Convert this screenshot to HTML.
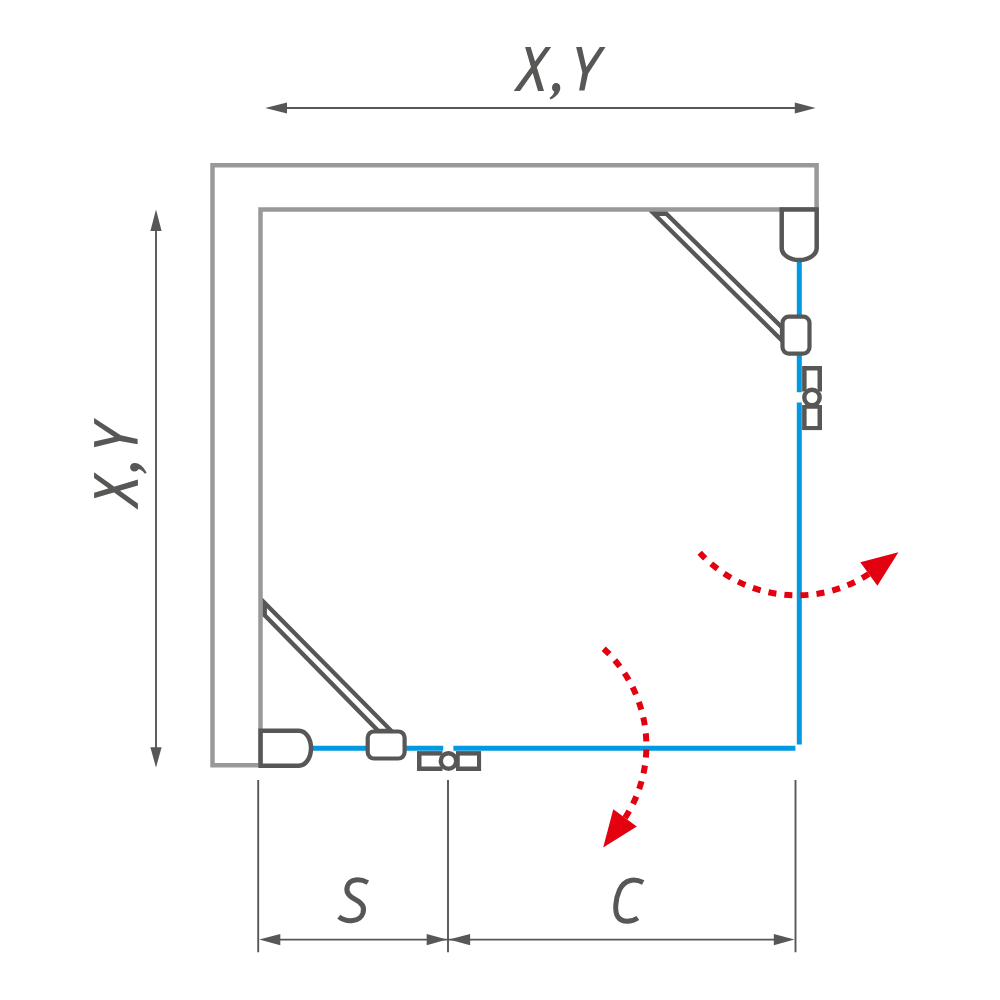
<!DOCTYPE html>
<html><head><meta charset="utf-8">
<style>
html,body{margin:0;padding:0;background:#fff;width:1000px;height:1000px;overflow:hidden;font-family:"Liberation Sans",sans-serif;}
svg{display:block;}
</style></head>
<body>
<svg width="1000" height="1000" viewBox="0 0 1000 1000">
<defs>
  <g id="asm">
    <!-- glass -->
    <path d="M799.3 258 V392.25 M799.3 402.4 V744.4" stroke="#0399e0" stroke-width="5" fill="none"/>
    <!-- strut -->
    <path d="M653.9 213.75 L666.3 213.75 L782 327.4 L782 340.5 Z" stroke="#575756" stroke-width="4.3" fill="#fff" stroke-linejoin="miter"/>
    <!-- hinge -->
    <path d="M781.7 209.6 H816.7 V248 A17.5 12 0 0 1 781.7 248 Z" stroke="#575756" stroke-width="4.5" fill="#fff"/>
    <!-- rounded rect -->
    <rect x="782.5" y="316.7" width="27" height="36.9" rx="6.3" stroke="#575756" stroke-width="4.2" fill="#fff"/>
    <!-- handle -->
    <rect x="802.1" y="366" width="19.9" height="25.5" fill="#575756"/>
    <rect x="806.6" y="370.5" width="10.9" height="21" fill="#fff"/>
    <rect x="802.1" y="405" width="19.9" height="25.1" fill="#575756"/>
    <rect x="806.6" y="408.75" width="10.9" height="17.25" fill="#fff"/>
    <circle cx="812" cy="397.5" r="9.9" fill="#575756"/>
    <circle cx="812" cy="397.5" r="5.5" fill="#fff"/>
    <!-- swing arrow -->
    <path d="M699.7 552.7 A132 132 0 0 0 868.85 574.05" stroke="#e3000f" stroke-width="6" fill="none" stroke-dasharray="8 8.1"/>
    <path d="M898.4 552.2 L860.3 562.3 L877.4 585.8 Z" fill="#e3000f"/>
  </g>
</defs>
<!-- walls -->
<path d="M260.5 765.3 H212.5 V165.2 H816.6 V209.6 H260.5 V765.3" stroke="#999999" stroke-width="4.5" fill="none"/>
<use href="#asm"/>
<use href="#asm" transform="matrix(0,1,1,0,51,-51)"/>
<!-- dimension lines -->
<g stroke="#575756" stroke-width="1.9" fill="none">
  <path d="M280 108 H800"/>
  <path d="M156 225 V752"/>
  <path d="M270 939.6 H780"/>
  <path d="M258.2 780 V952.3 M448 780 V952.3 M795.5 780 V952.3"/>
</g>
<g fill="#575756">
  <path d="M265.2 108 L287 102.4 L287 113.6 Z"/>
  <path d="M815.6 108 L794.8 102.4 L794.8 113.6 Z"/>
  <path d="M156 209.6 L150.4 230.9 L161.6 230.9 Z"/>
  <path d="M156 767.6 L150.4 747.2 L161.6 747.2 Z"/>
  <path d="M259.2 939.6 L280.3 934 L280.3 945.2 Z"/>
  <path d="M447 939.6 L426.7 934 L426.7 945.2 Z"/>
  <path d="M449 939.6 L470.1 934 L470.1 945.2 Z"/>
  <path d="M794.5 939.6 L773.8 934 L773.8 945.2 Z"/>
</g>
<!-- text glyphs -->
<defs>
<g id="xyt">
  <path d="M525.1 47.1 H530.7 L544 90.9 H538 Z M545.5 47.1 H551.2 L520 90.9 H513.7 Z" fill="#575756"/>
  <path d="M576.1 47.1 H581.8 L586.3 67.2 L599.8 47.1 H605.5 L588.1 73.8 L584.5 90.6 H579.1 L582.4 72.6 Z" fill="#575756"/>
  <path d="M556 83.1 C558.6 83.1 560.4 85 560.3 88 C560.2 92.5 556 97 550.6 99.6 L549.6 97.8 C552.5 95.8 554 93.5 554.3 91.5 C552.8 91.1 552 89.6 552 87.6 C552 85 553.8 83.1 556 83.1 Z" fill="#575756"/>
</g>
</defs>
<use href="#xyt"/>
<use href="#xyt" transform="matrix(0,-1,1,0,47.0,1023.4)"/>
<g stroke="#575756" stroke-width="5" fill="none" stroke-linecap="butt">
  <path d="M367.9 882.6 C360 878.5 350 878.5 347.5 886 C345 893 350 897 356.2 900 C363 903.5 364.5 908 363 913 C360 922 347 923 338.8 916.8"/>
  <path d="M643.2 882.6 C635 878.5 625 878.5 619.5 890 C615 900 614.5 912 618 917 C622 923 632 922 637.8 918"/>
</g>
</svg>
</body></html>
